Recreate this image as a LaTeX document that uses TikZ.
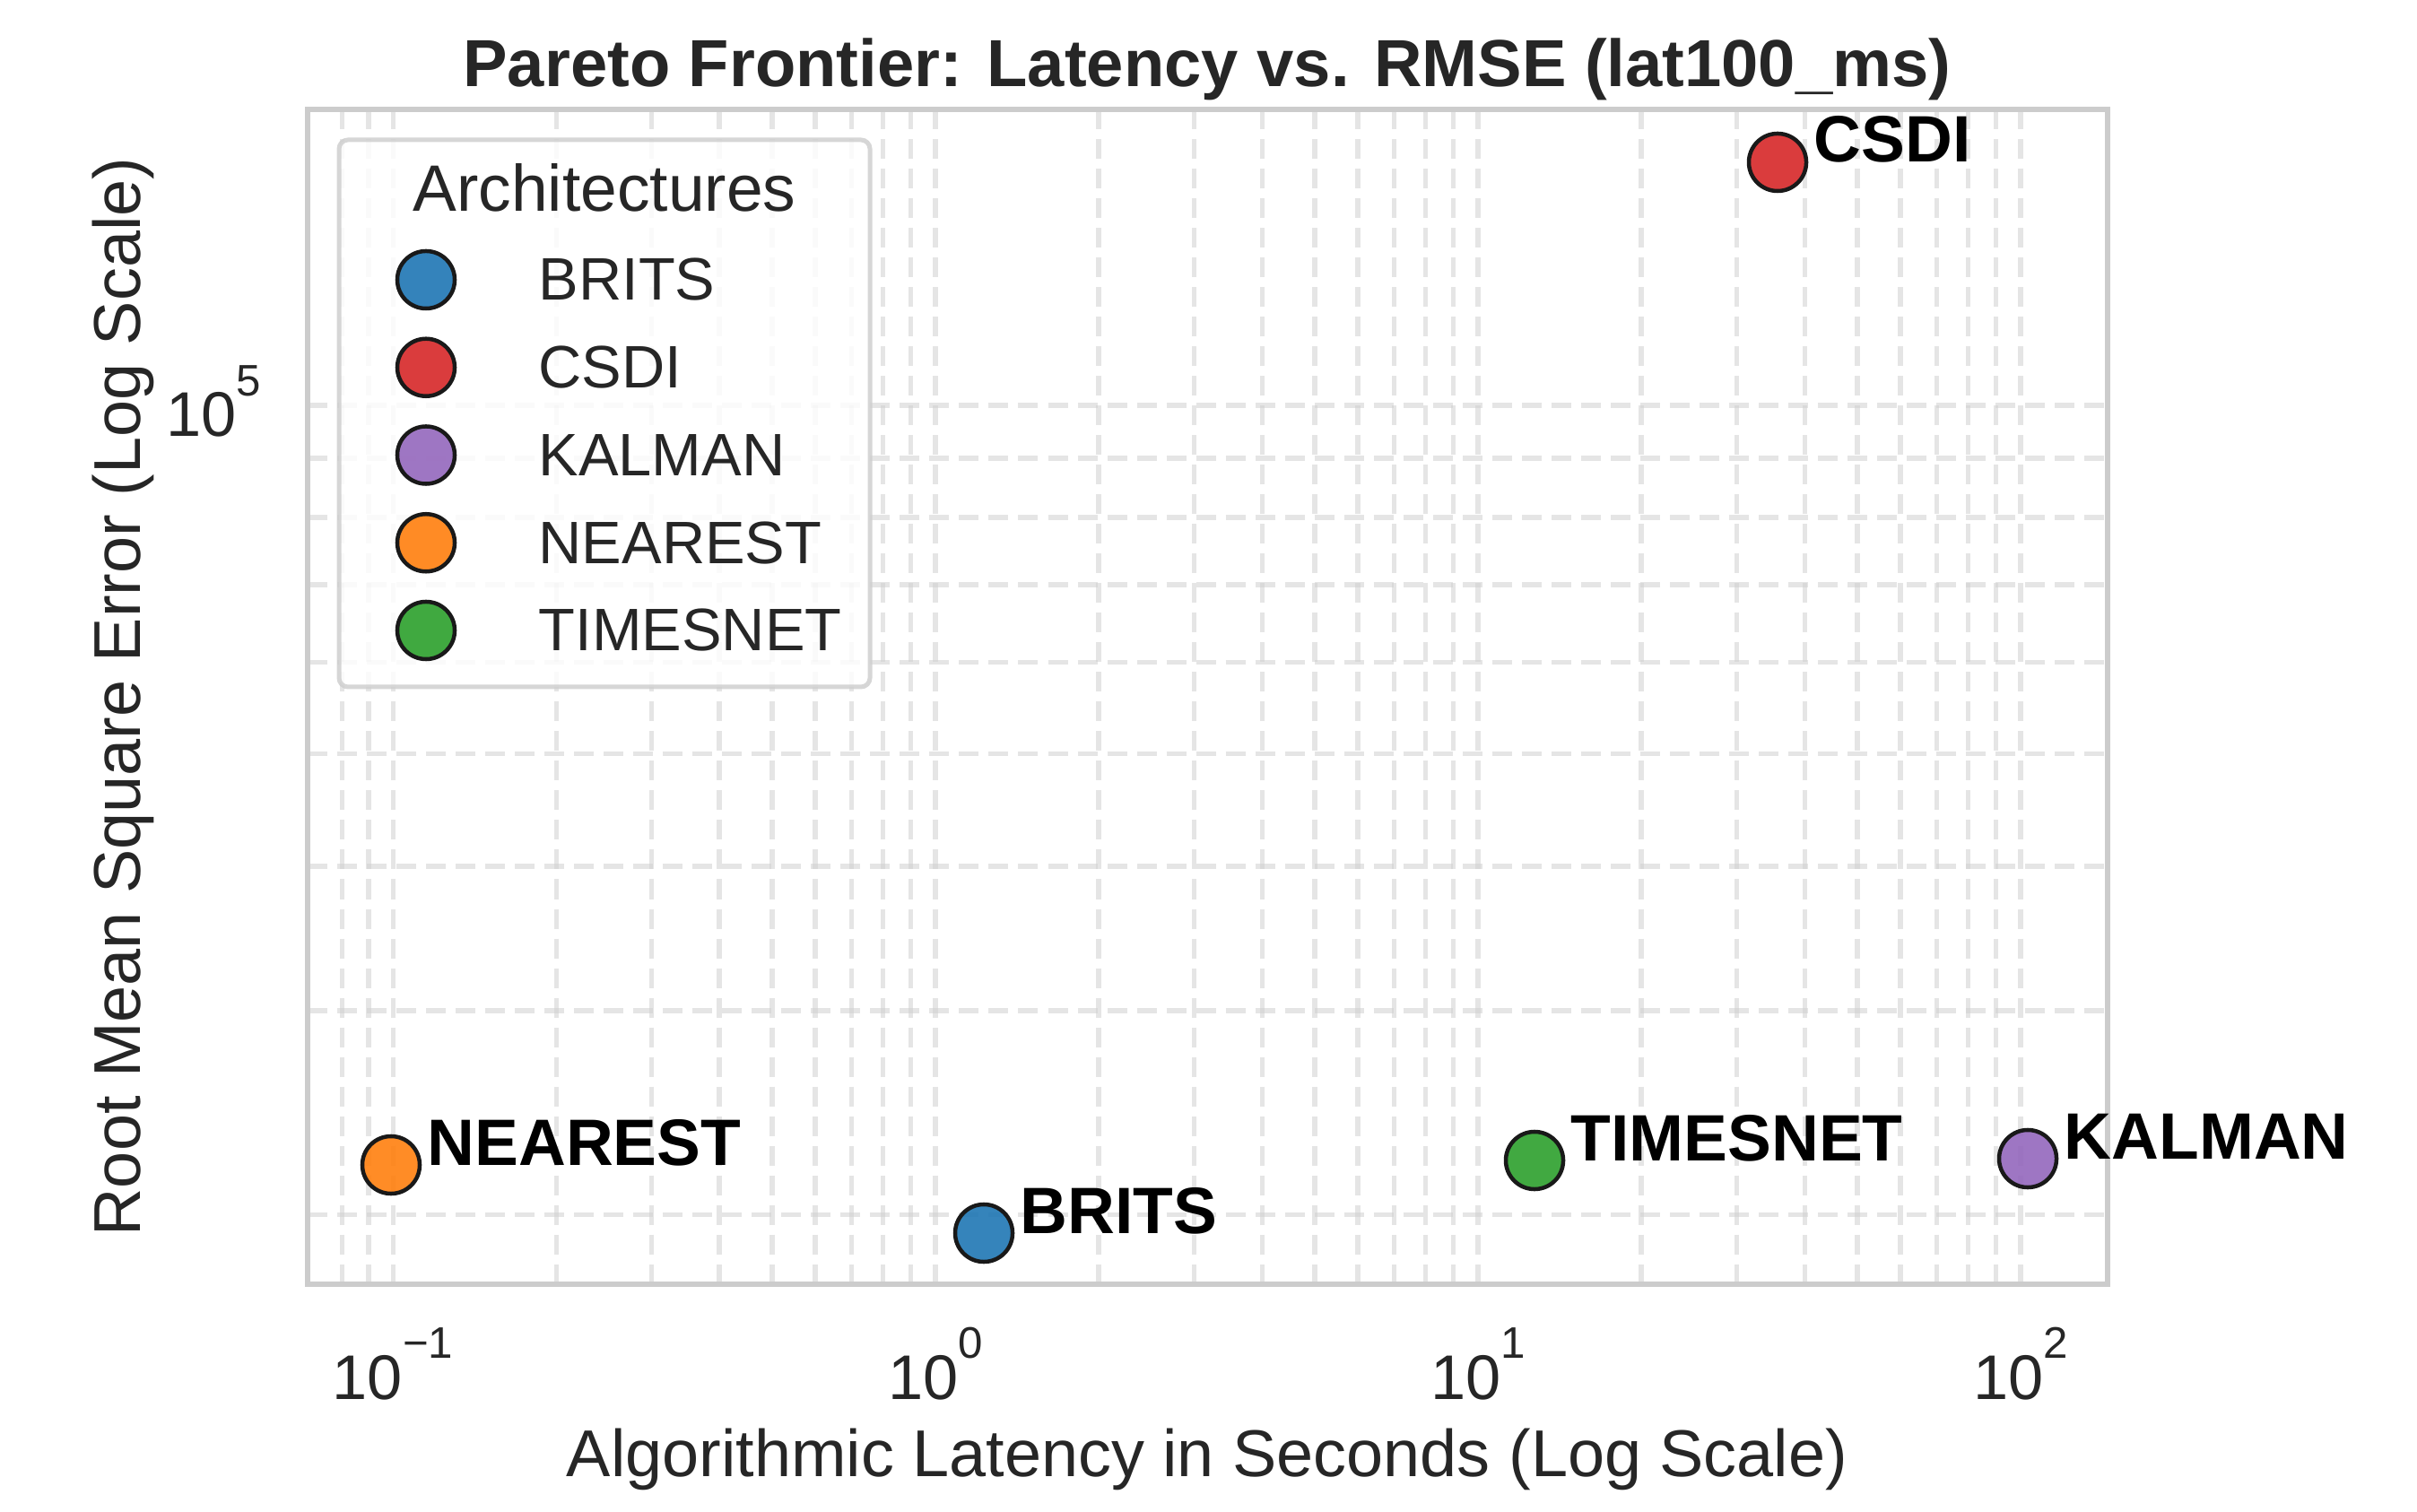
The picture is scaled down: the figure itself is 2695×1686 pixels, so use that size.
\documentclass[tikz,border=0pt]{standalone}
\usepackage{fontspec}
\setmainfont{Liberation Sans}
\usepackage{tikz}

\definecolor{txtgray}{HTML}{262626}
\definecolor{spinegray}{HTML}{CCCCCC}
\definecolor{cbrits}{HTML}{1F77B4}
\definecolor{ccsdi}{HTML}{D62728}
\definecolor{ckalman}{HTML}{9467BD}
\definecolor{cnearest}{HTML}{FF7F0E}
\definecolor{ctimesnet}{HTML}{2CA02C}

% power of ten tick label
\newcommand{\tenexp}[1]{10\raisebox{13pt}{\fontsize{14}{14}\selectfont #1}}

\begin{document}
\begin{tikzpicture}[x=0.01cm, y=-0.01cm,
    gridline/.style={draw=spinegray, draw opacity=0.5, line width=0.055cm, dash pattern=on 0.22cm off 0.11cm},
    spine/.style={draw=spinegray, line width=0.06cm},
    legframe/.style={draw=spinegray, draw opacity=0.8, line width=0.05cm, rounded corners=0.1cm, fill=white, fill opacity=0.8},
    dot/.style={circle, minimum size=0.64cm, inner sep=0pt, draw=black!90, line width=0.045cm, fill opacity=0.9},
    ptlabel/.style={font=\fontsize{20.8}{24}\selectfont\bfseries, text=black, inner sep=0pt, anchor=base west},
    ticklabel/.style={font=\fontsize{20}{24}\selectfont, text=txtgray, inner sep=0pt},
    axlabel/.style={font=\fontsize{21}{25}\selectfont, text=txtgray, inner sep=0pt, anchor=base},
    legtext/.style={font=\fontsize{19}{23}\selectfont, text=txtgray, inner sep=0pt, anchor=west}]

    \useasboundingbox (0,0) rectangle (2695,1686);

    % grid (log x, log y)
    \foreach \v in {0.08,0.09,0.1,0.2,0.3,0.4,0.5,0.6,0.7,0.8,0.9,1,2,3,4,5,6,7,8,9,10,20,30,40,50,60,70,80,90,100}
        \draw[gridline] ({1043+605*log10(\v)},122) -- ++(0,1310);
    \foreach \m in {2,...,10}
        \draw[gridline] (343,{1743-1291*log10(\m)}) -- (2350,{1743-1291*log10(\m)});

    % frame
    \draw[spine] (343,122) rectangle (2350,1432);

    % ticks
    \foreach \e/\xx [count=\i] in {−1/438, 0/1043, 1/1648, 2/2253}
        \node[ticklabel, anchor=base] (xtick\i) at (\xx,1560) {\tenexp{\e}};
    \node[ticklabel, anchor=base east] (ytick) at (292,487) {\tenexp{5}};

    % points
    \node[dot, fill=cbrits] (brits) at (1097,1375) {};
    \node[dot, fill=ccsdi] (csdi) at (1982,181) {};
    \node[dot, fill=ckalman] (kalman) at (2261,1292) {};
    \node[dot, fill=cnearest] (nearest) at (436,1299) {};
    \node[dot, fill=ctimesnet] (timesnet) at (1711,1294) {};

    \node[ptlabel] (brits-lbl) at ([xshift=0.4cm]brits.center) {BRITS};
    \node[ptlabel] (csdi-lbl) at ([xshift=0.4cm]csdi.center) {CSDI};
    \node[ptlabel] (kalman-lbl) at ([xshift=0.4cm]kalman.center) {KALMAN};
    \node[ptlabel] (nearest-lbl) at ([xshift=0.4cm]nearest.center) {NEAREST};
    \node[ptlabel] (timesnet-lbl) at ([xshift=0.4cm]timesnet.center) {TIMESNET};

    % legend
    \draw[legframe] (378,156) rectangle (970,766);
    \node[font=\fontsize{20.8}{25}\selectfont, text=txtgray, anchor=base, inner sep=0pt] (legtitle) at (674,236) {Architectures};
    \foreach \name/\col [count=\i] in {BRITS/cbrits, CSDI/ccsdi, KALMAN/ckalman, NEAREST/cnearest, TIMESNET/ctimesnet} {
        \node[dot, fill=\col] (legdot\i) at (475,{312+97.75*(\i-1)}) {};
        \node[legtext] (legtxt\i) at (600,{312+97.75*(\i-1)}) {\name};
    }

    % titles
    \node[font=\fontsize{21.1}{25}\selectfont\bfseries, text=txtgray, anchor=base, inner sep=0pt] (title) at (1346,97) {Pareto Frontier: Latency vs. RMSE (lat100\_ms)};
    \node[axlabel] (xlabel) at (1346,1646) {Algorithmic Latency in Seconds (Log Scale)};
    \node[axlabel, rotate=90] (ylabel) at (156,777) {Root Mean Square Error (Log Scale)};
\end{tikzpicture}
\end{document}
